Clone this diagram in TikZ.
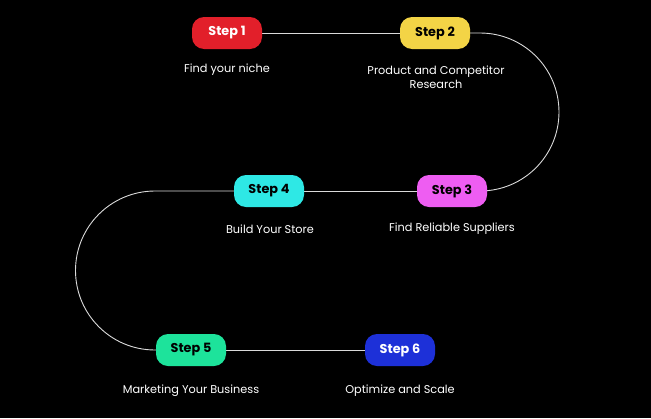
\documentclass[tikz,border=0pt]{standalone}
\usepackage{fontspec}
\setmainfont{Poppins}
\usetikzlibrary{backgrounds}
\definecolor{cOne}{HTML}{E21F2A}
\definecolor{cTwo}{HTML}{F3D446}
\definecolor{cThree}{HTML}{EE5DF2}
\definecolor{cFour}{HTML}{2EE8E5}
\definecolor{cFive}{HTML}{1DE39B}
\definecolor{cSix}{HTML}{1D30D8}
\definecolor{lineC}{HTML}{DADADA}
\begin{document}
\begin{tikzpicture}[x=1pt,y=-1pt,
  stepbox/.style={rounded corners=12pt, minimum width=70pt, minimum height=32pt, inner sep=0pt,
    font=\fontsize{12.8}{14}\selectfont\bfseries},
  lbl/.style={text=white, align=center, font=\fontsize{11.3}{14.5}\selectfont},
  conn/.style={draw=lineC, line width=0.9pt}]
\useasboundingbox (0,0) rectangle (651,418);
\coordinate (rt) at (480,33);
\coordinate (lt) at (155,191);
\node[stepbox, fill=cOne, text=white] (s1) at (227,33) {Step 1};
\node[stepbox, fill=cTwo, text=black] (s2) at (435,33) {Step 2};
\node[stepbox, fill=cThree, text=black] (s3) at (452,191) {Step 3};
\node[stepbox, fill=cFour, text=black] (s4) at (269,191) {Step 4};
\node[stepbox, fill=cFive, text=black] (s5) at (191,350) {Step 5};
\node[stepbox, fill=cSix, text=white] (s6) at (400,350) {Step 6};
\begin{scope}[on background layer]
\fill[black] (0,0) rectangle (651,418);
\draw[conn] (s1.east) -- (s2.west);
\draw[conn] (s4.east) -- (s3.west);
\draw[conn] (s5.east) -- (s6.west);
\draw[conn] (s2.east) -- (rt) arc[start angle=90, end angle=-90, radius=79pt] -- (s3.east);
\draw[conn] (s4.west) -- (lt) arc[start angle=90, end angle=270, radius=79.5pt] -- (s5.west);
\end{scope}
\node[lbl] (l1) at (227,70) {Find your niche};
\node[lbl] (l2) at (436,77) {Product and Competitor\\Research};
\node[lbl] (l3) at (452,229) {Find Reliable Suppliers};
\node[lbl] (l4) at (270,229) {Build Your Store};
\node[lbl] (l5) at (191,391) {Marketing Your Business};
\node[lbl] (l6) at (400,391) {Optimize and Scale};
\end{tikzpicture}
\end{document}
